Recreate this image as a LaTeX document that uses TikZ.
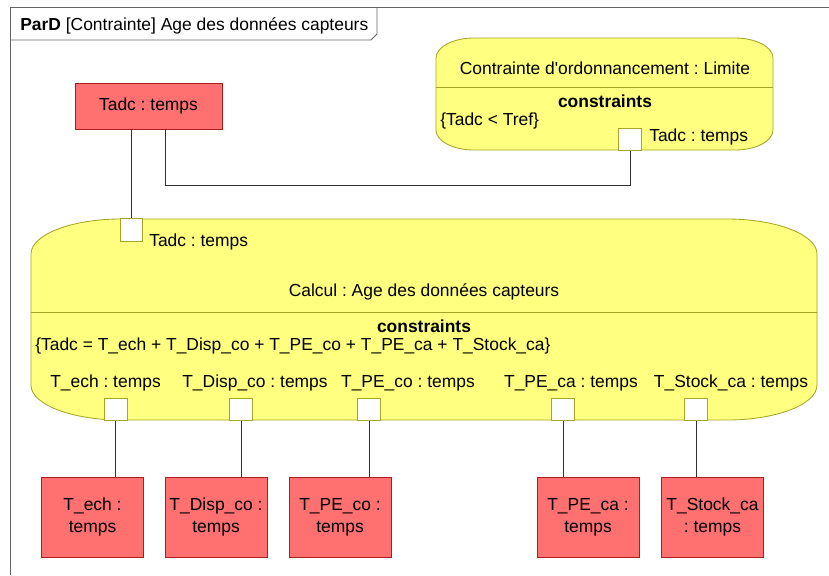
\documentclass[tikz,border=0pt]{standalone}
\usepackage{fontspec}
\setmainfont{Liberation Sans}
\usetikzlibrary{positioning}
\definecolor{partyellow}{RGB}{255,255,128}
\definecolor{partedge}{RGB}{165,165,40}
\definecolor{valred}{RGB}{255,112,112}
\definecolor{valedge}{RGB}{170,30,30}
\definecolor{wiregray}{RGB}{50,50,50}
\definecolor{framegray}{RGB}{100,100,100}
\frenchspacing

\begin{document}
\begin{tikzpicture}[
    x=0.025cm, y=-0.025cm,
    font=\fontsize{12.4}{15}\selectfont,
    valbox/.style={rectangle, draw=valedge, fill=valred, line width=0.6pt,
                   minimum width=2.55cm, minimum height=2.0cm, align=center,
                   inner sep=1pt, font=\fontsize{12.4}{15.5}\selectfont},
    portbox/.style={rectangle, draw=partedge, fill=white, line width=0.6pt,
                    minimum size=0.56cm, inner sep=0pt},
    blk/.style={draw=partedge, fill=partyellow, line width=0.6pt},
    sep/.style={draw=partedge, line width=0.6pt},
    wire/.style={draw=wiregray, line width=0.6pt},
    plbl/.style={inner sep=0pt},
    ttl/.style={inner sep=0pt},
    cstr/.style={inner sep=0pt, font=\fontsize{12.4}{15}\selectfont\bfseries}
]
\useasboundingbox (0,0) rectangle (829,575);

% Frame and title tab
\draw[framegray, line width=0.6pt] (829,7) -- (10,7) -- (10,575);
\draw[framegray, line width=0.6pt] (10,40) -- (371,40) -- (377,34) -- (377,7);
\node[ttl, anchor=base west] (title) at (20,30)
  {\textbf{ParD} [Contrainte] Age des données capteurs};

% Constraint block: scheduling limit
\draw[blk] (474,38) -- (735,38) arc[start angle=90, end angle=0, x radius=0.95cm, y radius=0.5cm]
  -- (773,130) arc[start angle=0, end angle=-90, x radius=0.95cm, y radius=0.5cm]
  -- (474,150) arc[start angle=270, end angle=180, x radius=0.95cm, y radius=0.5cm]
  -- (436,58) arc[start angle=180, end angle=90, x radius=0.95cm, y radius=0.5cm] -- cycle;
\draw[sep] (436,87) -- (773,87);
\node[ttl] (ctrname) at (605,68) {Contrainte d\textquotesingle ordonnancement : Limite};
\node[cstr] (ctrhead) at (605,101) {constraints};
\node[ttl, anchor=west] (ctrrule) at (440,121) {\{Tadc < Tref\}};
\node[portbox] (pCtrTadc) at (630,139.5) {};
\node[plbl, anchor=west] (lCtrTadc) at (649,137) {Tadc : temps};

% Constraint block: computation
\draw[blk] (121,219) -- (727,219) arc[start angle=90, end angle=0, x radius=2.25cm, y radius=0.875cm]
  -- (817,385) arc[start angle=0, end angle=-90, x radius=2.25cm, y radius=0.875cm]
  -- (121,420) arc[start angle=270, end angle=180, x radius=2.25cm, y radius=0.875cm]
  -- (31,254) arc[start angle=180, end angle=90, x radius=2.25cm, y radius=0.875cm] -- cycle;
\draw[sep] (31,312) -- (817,312);
\node[portbox] (pCalcTadc) at (131.5,230) {};
\node[plbl, anchor=west] (lCalcTadc) at (149,242) {Tadc : temps};
\node[ttl] (calcname) at (424,292) {Calcul : Age des données capteurs};
\node[cstr] (calchead) at (424,326) {constraints};
\node[ttl, anchor=west] (calcrule) at (35,346)
  {\{Tadc = T\_ech + T\_Disp\_co + T\_PE\_co + T\_PE\_ca + T\_Stock\_ca\}};

% Bottom ports of the computation
\node[portbox] (pEch) at (115.8,409.5) {};
\node[portbox] (pDisp) at (241,409.5) {};
\node[portbox] (pPEco) at (369,409.5) {};
\node[portbox] (pPEca) at (563,409.5) {};
\node[portbox] (pStock) at (696,409.5) {};
\node[plbl] (lEch) at (105.5,383) {T\_ech : temps};
\node[plbl] (lDisp) at (255,383) {T\_Disp\_co : temps};
\node[plbl] (lPEco) at (408,383) {T\_PE\_co : temps};
\node[plbl] (lPEca) at (571,383) {T\_PE\_ca : temps};
\node[plbl] (lStock) at (731,383) {T\_Stock\_ca : temps};

% Value properties
\node[valbox, minimum width=3.675cm, minimum height=1.15cm] (tadc) at (148.5,106) {Tadc : temps};
\node[valbox] (ech) at (92.5,517) {T\_ech :\\temps};
\node[valbox] (disp) at (216,517) {T\_Disp\_co :\\temps};
\node[valbox] (peco) at (340,517) {T\_PE\_co :\\temps};
\node[valbox] (peca) at (588,517) {T\_PE\_ca :\\temps};
\node[valbox] (stock) at (712.5,517) {T\_Stock\_ca\\: temps};

% Binding connectors
\coordinate (bus) at (400,185);
\draw[wire] (pCalcTadc.north |- tadc.south) -- (pCalcTadc.north);
\draw[wire] ([xshift=0.43cm]tadc.south) -- ([xshift=0.43cm]tadc.south |- bus)
  -- (pCtrTadc.south |- bus) -- (pCtrTadc.south);
\draw[wire] (pEch.south) -- (pEch.south |- ech.north);
\draw[wire] (pDisp.south) -- (pDisp.south |- disp.north);
\draw[wire] (pPEco.south) -- (pPEco.south |- peco.north);
\draw[wire] (pPEca.south) -- (pPEca.south |- peca.north);
\draw[wire] (pStock.south) -- (pStock.south |- stock.north);
\end{tikzpicture}
\end{document}
